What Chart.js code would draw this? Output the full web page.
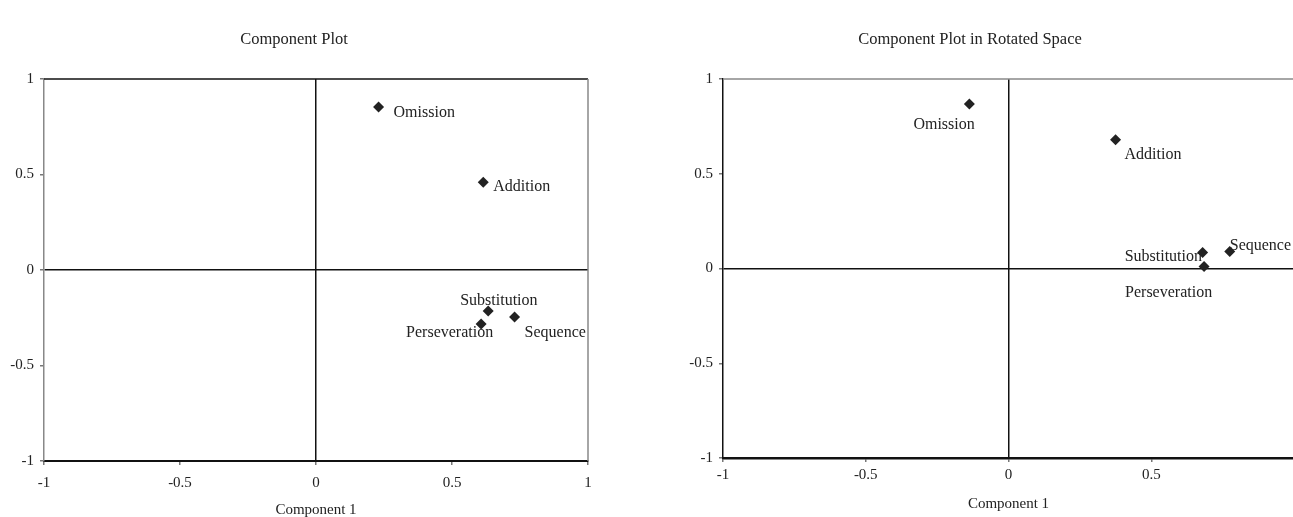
<!DOCTYPE html>
<html><head><meta charset="utf-8">
<script src="https://cdn.jsdelivr.net/npm/chart.js@4"></script>
<style>
html,body{margin:0;padding:0;background:#fff;overflow:hidden;width:1293px;height:517px;position:relative;}
#c1{position:absolute;left:0;top:0;}
#c2{position:absolute;left:646px;top:0;}
</style></head><body>
<canvas id="c1" width="646" height="517"></canvas>
<canvas id="c2" width="660" height="517"></canvas>
<script>
// ---- data ----
const variables = ['Omission', 'Addition', 'Substitution', 'Perseveration', 'Sequence'];
const comp1 = [0.23, 0.615, 0.633, 0.607, 0.73];
const comp2 = [0.853, 0.46, -0.215, -0.283, -0.246];
const rotComp1 = [-0.137, 0.375, 0.68, 0.685, 0.775];
const rotComp2 = [0.868, 0.679, 0.084, 0.01, 0.09];
const axisTicks = [-1, -0.5, 0, 0.5, 1];
const titles = ['Component Plot', 'Component Plot in Rotated Space'];
const xAxisTitle = 'Component 1';

// ---- label placement (pixel offsets from marker, left edge of text) ----
const labelOffsetsLeft = [[15, 6], [10, 5], [-28, -10], [-75, 9], [10, 16]];
const labelOffsetsRight = [[-56, 21], [9, 15], [-78, 4], [-79, 26], [0, -6]];

const FONT = "'Liberation Serif', 'Times New Roman', serif";
const INK = '#222';

const labelPlugin = {
  id: 'pointLabels',
  beforeDatasetsDraw(chart, args, opts) {
    const ctx = chart.ctx;
    const meta = chart.getDatasetMeta(0);
    ctx.save();
    ctx.font = '16px ' + FONT;
    ctx.fillStyle = INK;
    ctx.textAlign = 'left';
    ctx.textBaseline = 'middle';
    meta.data.forEach((pt, i) => {
      const off = opts.offsets[i];
      ctx.fillText(variables[i], pt.x + off[0], pt.y + off[1]);
    });
    ctx.restore();
  }
};

const framePlugin = {
  id: 'frame',
  beforeDatasetsDraw(chart, args, opts) {
    const {ctx, chartArea: a} = chart;
    ctx.save();
    ctx.lineWidth = 1.5;
    ctx.strokeStyle = opts.topColor;
    ctx.beginPath(); ctx.moveTo(a.left, a.top); ctx.lineTo(a.right, a.top); ctx.stroke();
    if (opts.rightColor) {
      ctx.strokeStyle = opts.rightColor;
      ctx.beginPath(); ctx.moveTo(a.right, a.top); ctx.lineTo(a.right, a.bottom); ctx.stroke();
    }
    ctx.restore();
  }
};

function makeChart(id, xs, ys, cfg) {
  const pts = xs.map((x, i) => ({x, y: ys[i]}));
  return new Chart(document.getElementById(id), {
    type: 'scatter',
    data: {
      datasets: [{
        data: pts,
        pointStyle: 'rectRot',
        pointRadius: 5.5,
        pointHoverRadius: 5.5,
        backgroundColor: INK,
        borderColor: INK,
        borderWidth: 0
      }]
    },
    options: {
      responsive: false,
      animation: false,
      devicePixelRatio: 1,
      layout: {padding: {left: 0, right: cfg.padRight, top: 0, bottom: 0}},
      plugins: {
        legend: {display: false},
        tooltip: {enabled: false},
        title: {
          display: true, text: cfg.title, color: INK,
          font: {family: FONT, size: 16.5, weight: 'normal', lineHeight: 1.2},
          padding: {top: 30, bottom: 29.2}
        },
        pointLabels: {offsets: cfg.offsets},
        frame: {topColor: cfg.topColor, rightColor: cfg.rightColor}
      },
      scales: {
        x: {
          type: 'linear', min: -1, max: 1,
          afterBuildTicks: s => { s.ticks = axisTicks.map(v => ({value: v})); },
          afterFit: s => { s.height = cfg.xHeight; },
          ticks: {
            color: INK, font: {family: FONT, size: 15}, padding: cfg.xTickPad, maxRotation: 0,
            callback: v => (cfg.hideMax && v === 1) ? '' : String(v)
          },
          grid: {
            color: c => (c.tick && c.tick.value === 0) ? '#111' : 'rgba(0,0,0,0)',
            lineWidth: 1.5, tickColor: '#777', tickLength: 4, drawTicks: true
          },
          border: {display: true, color: '#111', width: cfg.bottomWidth},
          title: {display: true, text: xAxisTitle, color: INK,
                  font: {family: FONT, size: 15, lineHeight: 1}, padding: {top: 0, bottom: cfg.xTitlePad}}
        },
        y: {
          type: 'linear', min: -1, max: 1,
          afterBuildTicks: s => { s.ticks = axisTicks.map(v => ({value: v})); },
          afterFit: s => { s.width = cfg.yWidth; },
          ticks: {color: INK, font: {family: FONT, size: 15}, padding: 6, callback: v => String(v)},
          grid: {
            color: c => (c.tick && c.tick.value === 0) ? '#111' : 'rgba(0,0,0,0)',
            lineWidth: 1.5, tickColor: '#777', tickLength: 4, drawTicks: true
          },
          border: {display: true, color: cfg.leftColor, width: 1.5}
        }
      }
    },
    plugins: [framePlugin, labelPlugin]
  });
}

makeChart('c1', comp1, comp2, {
  title: titles[0], padRight: 58,
  xHeight: 56, xTickPad: 9, xTitlePad: -1, yWidth: 44, bottomWidth: 2, hideMax: false,
  offsets: labelOffsetsLeft, topColor: '#111', rightColor: '#888', leftColor: '#888'
});
makeChart('c2', rotComp1, rotComp2, {
  title: titles[1], padRight: 12,
  xHeight: 59, xTickPad: 4, xTitlePad: 5, yWidth: 77, bottomWidth: 2.5, hideMax: true,
  offsets: labelOffsetsRight, topColor: '#888', rightColor: null, leftColor: '#111'
});
</script>
</body></html>
